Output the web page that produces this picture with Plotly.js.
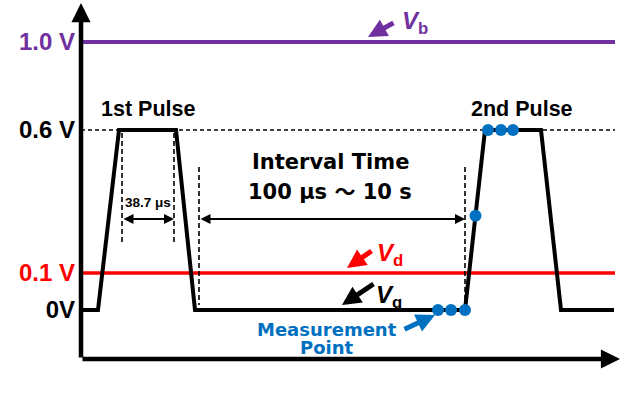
<!DOCTYPE html>
<html>
<head>
<meta charset="utf-8">
<script src="https://cdn.plot.ly/plotly-3.0.1.min.js"></script>
<style>html,body{margin:0;padding:0;background:#fff;}</style>
</head>
<body>
<div id="chart" style="width:625px;height:399px"></div>
<script>
// Voltage levels marked on the axis and the height each is drawn at (schematic, not to scale)
const levelVolts  = [0, 0.1, 0.6, 1.0];
const levelHeight = [49, 86, 229, 317];
const levelLabels = ['0V', '0.1 V', '0.6 V', '1.0 V'];
const levelColors = ['#000000', '#FF0000', '#000000', '#7030A0'];

// Gate pulse sequence (schematic time units, volts)
const gateTime = [0, 17, 38, 95, 114, 384, 404, 460, 480, 533];
const gateVolt = [0, 0, 0.6, 0.6, 0, 0, 0.6, 0.6, 0, 0];

// Measurement points on the second pulse
const measTime = [357, 370, 384, 394.5, 407, 420, 432];
const measVolt = [0, 0, 0, 0.3, 0.6, 0.6, 0.6];

// Constant bias lines
const bulkVolt  = 1.0;
const drainVolt = 0.1;
const biasTime  = [2, 534];

// Pulse-width and interval markers
const pulseEdges    = [41, 93];
const intervalEdges = [118, 384];

const PURPLE = '#7030A0', RED = '#FF0000', BLUE = '#0070C0';
const ARIAL = 'Liberation Sans, Arial, sans-serif';
const DEJAVU = 'DejaVu Sans, Verdana, sans-serif';

// piecewise-linear map from volts to drawn height
function h(v) {
  for (let i = 0; i < levelVolts.length - 1; i++) {
    if (v <= levelVolts[i + 1]) {
      const f = (v - levelVolts[i]) / (levelVolts[i + 1] - levelVolts[i]);
      return levelHeight[i] + f * (levelHeight[i + 1] - levelHeight[i]);
    }
  }
  return levelHeight[levelHeight.length - 1];
}

const xMax = 539, yMax = 356;
const topH = h(0.6);

const traces = [
  { x: biasTime, y: biasTime.map(() => h(bulkVolt)), mode: 'lines',
    line: { color: PURPLE, width: 4 } },
  { x: biasTime, y: biasTime.map(() => h(drainVolt)), mode: 'lines',
    line: { color: RED, width: 3.5 } },
  { x: [0, biasTime[1]], y: [topH, topH], mode: 'lines',
    line: { color: '#000', width: 1.5, dash: '4px,3px' } },
  { x: [pulseEdges[0], pulseEdges[0], null, pulseEdges[1], pulseEdges[1], null,
        intervalEdges[0], intervalEdges[0], null, intervalEdges[1], intervalEdges[1]],
    y: [topH - 3, 116, null, topH - 3, 116, null, 192, 54, null, 192, 54],
    mode: 'lines', line: { color: '#000', width: 1.6, dash: '5px,3px' } },
  { x: gateTime, y: gateVolt.map(h), mode: 'lines',
    line: { color: '#000', width: 4 } },
  { x: measTime, y: measVolt.map(h), mode: 'markers',
    marker: { color: BLUE, size: 12 } }
];

function text(t, x, y, size, color, family, extra) {
  return Object.assign({ text: t, x: x, y: y, xref: 'x', yref: 'y', showarrow: false,
    xanchor: 'center', yanchor: 'middle',
    font: { family: family || ARIAL, size: size, color: color || '#000', weight: 'bold' } }, extra || {});
}
function arrow(x, y, ax, ay, color, width, size, both) {
  return { text: '', x: x, y: y, ax: ax, ay: ay, xref: 'x', yref: 'y', axref: 'x', ayref: 'y',
    showarrow: true, arrowhead: 2, arrowwidth: width, arrowsize: size, arrowcolor: color,
    arrowside: both ? 'end+start' : 'end', startarrowhead: 2, startarrowsize: size,
    standoff: 0, startstandoff: 0, font: { size: 1 } };
}

const TILDE = '<span style="font-family:Noto Sans CJK JP">～</span>';

const annotations = [
  // axes
  arrow(0, yMax, 0, 0, '#000', 4.5, 0.85),
  arrow(xMax, 0, 0, 0, '#000', 4.5, 0.85),
  // labels
  text('Voltage (V)', -20, 153, 20, '#000', ARIAL, { textangle: -90 }),
  text('Time (s)', 474, -24, 22),
  text('1st Pulse', 67, 250, 21.5),
  text('2nd Pulse', 441, 250, 21.5),
  text('38.7 μs', 67, 157, 13.5),
  text('Interval Time', 249, 197, 21, '#000', DEJAVU),
  text('100 μs ' + TILDE + ' 10 s', 249, 169, 21, '#000', DEJAVU),
  text('Measurement', 246, 30, 18, BLUE, DEJAVU),
  text('Point', 246, 12, 18, BLUE, DEJAVU),
  text('<i>V</i><sub>b</sub>', 334, 337, 24, PURPLE),
  text('<i>V</i><sub>d</sub>', 309, 105, 24, RED),
  text('<i>V</i><sub>g</sub>', 308, 63, 24, '#000'),
  // dimension arrows
  arrow(pulseEdges[1], 140, pulseEdges[0], 140, '#000', 2, 1, true),
  arrow(intervalEdges[1], 140, intervalEdges[0], 140, '#000', 2, 1, true),
  // pointer arrows
  arrow(287, 322, 314, 337, PURPLE, 5, 0.75),
  arrow(266, 91, 292, 109, RED, 5, 0.75),
  arrow(261, 54, 294, 76, '#000', 5, 0.75),
  arrow(354, 44, 322, 29, BLUE, 5, 0.75)
];

const layout = {
  width: 625, height: 399,
  margin: { l: 81, r: 5, t: 3, b: 40 },
  paper_bgcolor: '#fff', plot_bgcolor: '#fff',
  showlegend: false,
  xaxis: { range: [0, xMax], showgrid: false, zeroline: false, showline: false,
           showticklabels: false, ticks: '', fixedrange: true },
  yaxis: { range: [0, yMax], showgrid: false, zeroline: false, showline: false,
           tickvals: levelHeight,
           ticktext: levelLabels.map((t, i) => '<span style="color:' + levelColors[i] + '">' + t + '</span>'),
           ticks: '', ticklabelstandoff: 5,
           tickfont: { family: ARIAL, size: 24, color: '#000', weight: 'bold' },
           fixedrange: true },
  annotations: annotations
};

Plotly.newPlot('chart', traces, layout, { displayModeBar: false, staticPlot: true });
</script>
</body>
</html>
